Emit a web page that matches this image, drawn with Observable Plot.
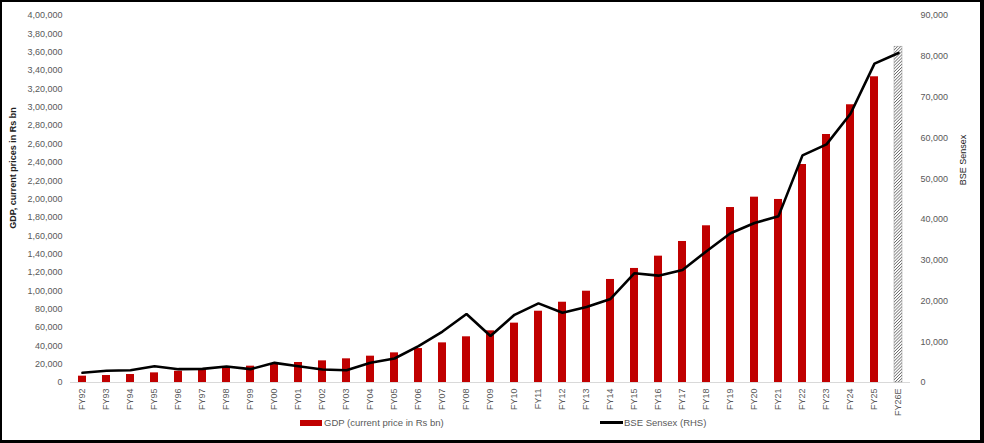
<!DOCTYPE html>
<html>
<head>
<meta charset="utf-8">
<script src="https://cdn.jsdelivr.net/npm/d3@7"></script>
<script src="https://cdn.jsdelivr.net/npm/@observablehq/plot@0.6"></script>
<style>
  html, body { margin: 0; padding: 0; background: #fff; }
  #frame {
    position: relative; width: 984px; height: 443px; box-sizing: border-box;
    border-style: solid; border-color: #000; border-width: 2px 4px 3px 2px;
    font-family: "Liberation Sans", Arial, sans-serif; overflow: hidden;
  }
  #chart svg { display: block; overflow: visible; }
  .leg { position: absolute; top: 415px; font-size: 9.5px; color: #595959; display: flex; align-items: center; white-space: nowrap; }
  .sw-bar { width: 22px; height: 6px; background: #C00000; margin-right: 2px; }
  .sw-line { width: 23px; height: 3px; background: #000; margin-right: 1px; }
</style>
</head>
<body>
<div id="frame">
  <div id="chart"></div>
  <div class="leg" style="left:298px"><span class="sw-bar"></span><span id="leg1"></span></div>
  <div class="leg" style="left:598px"><span class="sw-line"></span><span id="leg2"></span></div>
</div>
<script>
const years = ["FY92","FY93","FY94","FY95","FY96","FY97","FY98","FY99","FY00","FY01","FY02","FY03","FY04","FY05","FY06","FY07","FY08","FY09","FY10","FY11","FY12","FY13","FY14","FY15","FY16","FY17","FY18","FY19","FY20","FY21","FY22","FY23","FY24","FY25","FY26E"];
const gdp = [6900,7600,8700,10500,12300,14200,16500,17800,19800,21800,23600,25800,28700,32300,37000,43200,49800,56300,64700,77700,87500,99500,112300,124300,137700,153700,170800,190700,202000,199500,237600,270300,302700,333200,366000];
const sensex = [2380,2870,3020,4000,3270,3350,3920,3270,4820,4000,3190,3020,4820,5880,8900,12500,16800,11400,16600,19400,17100,18500,20500,26800,26200,27600,32200,36600,39100,40800,55700,58400,65900,78200,80800];
const estimated = ["FY26E"];
const leftTicks = [0,20000,40000,60000,80000,100000,120000,140000,160000,180000,200000,220000,240000,260000,280000,300000,320000,340000,360000,380000,400000];
const rightTicks = [0,10000,20000,30000,40000,50000,60000,70000,80000,90000];
const gdpLabel = "GDP (current price in Rs bn)";
const sensexLabel = "BSE Sensex (RHS)";
const leftTitle = "GDP, current prices in Rs bn";
const rightTitle = "BSE Sensex";

const leftMax = 400000, rightMax = 90000;
const k = leftMax / rightMax;

function inr(n) {
  n = Math.round(n);
  const s = String(n);
  if (s.length <= 3) return s;
  const last3 = s.slice(-3);
  let rest = s.slice(0, -3);
  const parts = [];
  while (rest.length > 2) { parts.unshift(rest.slice(-2)); rest = rest.slice(0, -2); }
  if (rest.length) parts.unshift(rest);
  return parts.join(",") + "," + last3;
}

const rows = years.map((fy, i) => ({fy, gdp: gdp[i], sensex: sensex[i], est: estimated.includes(fy)}));
const textColor = "#595959";

const chart = Plot.plot({
  width: 978,
  height: 436,
  marginLeft: 68,
  marginRight: 70,
  marginTop: 13,
  marginBottom: 56,
  style: {fontFamily: "'Liberation Sans', Arial, sans-serif", fontSize: "9px", background: "transparent"},
  x: {type: "band", domain: years, paddingInner: 0.67, paddingOuter: 0.335, axis: null},
  y: {domain: [0, leftMax], axis: null},
  marks: [
    Plot.axisY(leftTicks, {anchor: "left", tickSize: 0, tickPadding: 8, tickFormat: inr, color: textColor, label: null}),
    Plot.axisY(rightTicks.map(v => v * k), {anchor: "right", tickSize: 0, tickPadding: 10, tickFormat: d => inr(d / k), color: textColor, textAnchor: "start", label: null}),
    Plot.axisX(years, {anchor: "bottom", tickSize: 0, tickPadding: 6, tickRotate: -90, color: textColor, label: null}),
    Plot.text([leftTitle], {frameAnchor: "left", textAnchor: "middle", dx: -57, dy: -31, rotate: -90, fill: "#222", fontWeight: "bold", fontSize: 9}),
    Plot.text([rightTitle], {frameAnchor: "right", textAnchor: "middle", dx: 53, dy: -39, rotate: -90, fill: "#222", fontSize: 9}),
    Plot.ruleY([0], {stroke: "#d9d9d9", strokeWidth: 1}),
    Plot.barY(rows.filter(d => !d.est), {x: "fy", y: "gdp", fill: "#C00000"}),
    Plot.barY(rows.filter(d => d.est), {x: "fy", y: "gdp", fill: "url(#hatch)", stroke: "#9a9a9a", strokeWidth: 0.5}),
    Plot.line(rows, {x: "fy", y: d => d.sensex * k, stroke: "#000", strokeWidth: 2.6, strokeLinejoin: "miter"})
  ]
});

const ns = "http://www.w3.org/2000/svg";
const defs = document.createElementNS(ns, "defs");
defs.innerHTML = '<pattern id="hatch" patternUnits="userSpaceOnUse" width="2.2" height="2.2" patternTransform="rotate(45)"><rect width="2.2" height="2.2" fill="#fff"/><line x1="0" y1="0" x2="0" y2="2.2" stroke="#444" stroke-width="1.2"/></pattern>';
chart.insertBefore(defs, chart.firstChild);
document.getElementById("chart").appendChild(chart);
document.getElementById("leg1").textContent = gdpLabel;
document.getElementById("leg2").textContent = sensexLabel;
</script>
</body>
</html>
